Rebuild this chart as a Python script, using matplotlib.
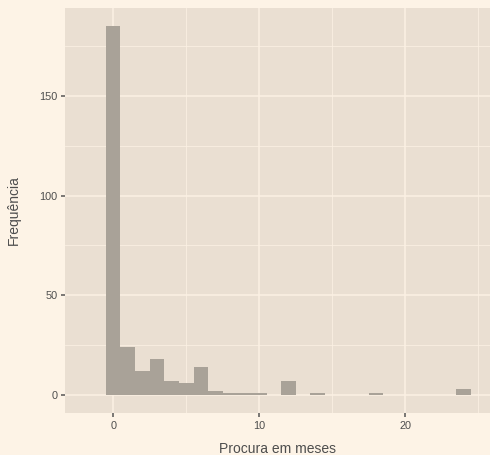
import matplotlib
matplotlib.use("Agg")
import matplotlib.pyplot as plt
import numpy as np

# Contagens por mês de procura (bins de largura 1 centrados nos inteiros)
meses = [0, 1, 2, 3, 4, 5, 6, 7, 8, 9, 10, 12, 14, 18, 24]
contagens = [185, 24, 12, 18, 7, 6, 14, 2, 1, 1, 1, 7, 1, 1, 3]

x_ticks = [0, 10, 20]
y_ticks = [0, 50, 100, 150]

bg = '#FDF3E6'
panel = '#EADFD2'
grid_col = '#FBF1E4'
texto = '#4D4D4D'

plt.rcParams['font.family'] = ['Liberation Sans', 'DejaVu Sans']

fig = plt.figure(figsize=(4.9, 4.55), dpi=100, facecolor=bg)
ax = fig.add_axes([65 / 490, 42 / 455, 425 / 490, 405 / 455])
ax.set_facecolor(panel)

ax.bar(meses, contagens, width=1.0, color='#A9A298', edgecolor='none', zorder=3)

ax.set_xlim(-3.3, 25.8)
ax.set_ylim(-9.25, 194.25)
ax.set_xticks(x_ticks)
ax.set_yticks(y_ticks)
ax.set_xticks([5, 15, 25], minor=True)
ax.set_yticks([25, 75, 125, 175], minor=True)

ax.grid(which='major', color=grid_col, linewidth=1.1, zorder=0)
ax.grid(which='minor', color=grid_col, linewidth=0.55, zorder=0)
ax.set_axisbelow(True)

for s in ax.spines.values():
    s.set_visible(False)

ax.tick_params(which='major', length=3, width=1.1, color='#555555',
               labelsize=7.8, labelcolor=texto, pad=2.5)
ax.tick_params(which='minor', length=0)

ax.set_xlabel('Procura em meses', fontsize=10, color=texto, labelpad=8)
ax.set_ylabel('Frequência', fontsize=10, color=texto, labelpad=13)

fig.savefig('out.png', dpi=100, facecolor=bg)
